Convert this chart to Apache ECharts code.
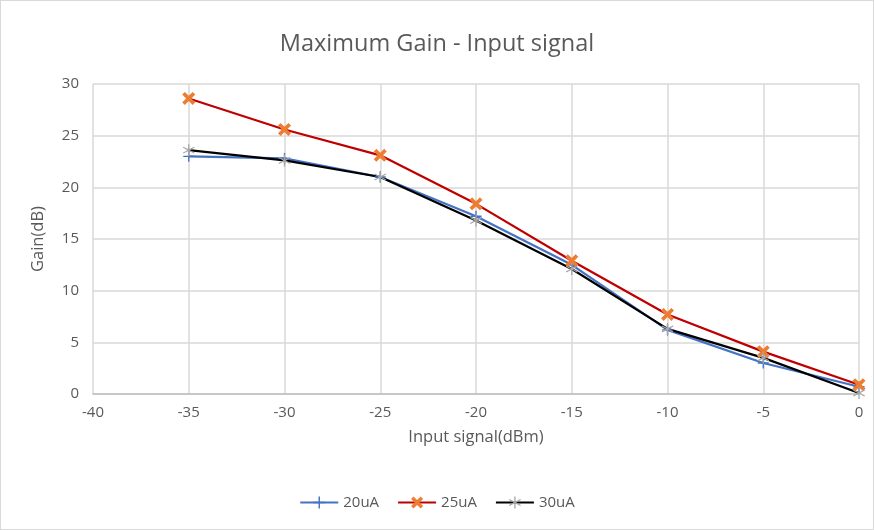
<!DOCTYPE html>
<html>
<head>
<meta charset="utf-8">
<script src="https://cdn.jsdelivr.net/npm/echarts@6/dist/echarts.min.js"></script>
<style>
  html, body { margin: 0; padding: 0; background: #fff; }
  #main { width: 872px; height: 528px; border: 1px solid #d9d9d9; }
</style>
</head>
<body>
<div id="main"></div>
<script>
var inputSignal = [-35, -30, -25, -20, -15, -10, -5, 0];
var gain20uA = [23.0, 22.8, 21.0, 17.2, 12.5, 6.2, 3.0, 0.7];
var gain25uA = [28.6, 25.6, 23.1, 18.4, 12.9, 7.7, 4.1, 0.9];
var gain30uA = [23.6, 22.6, 21.0, 16.8, 12.1, 6.3, 3.5, 0.1];

var seriesNames = ['20uA', '25uA', '30uA'];

// marker shapes, close to the Excel ones
var plusSymbol = 'path://M4.4,0 L5.6,0 L5.6,4.4 L10,4.4 L10,5.6 L5.6,5.6 L5.6,10 L4.4,10 L4.4,5.6 L0,5.6 L0,4.4 L4.4,4.4 Z';
var crossSymbol = 'path://M2,0 L5,3 L8,0 L10,2 L7,5 L10,8 L8,10 L5,7 L2,10 L0,8 L3,5 L0,2 Z';
var starSymbol = 'path://M4.5,0 L5.5,0 L5.5,4.1 L9.1,2.1 L9.6,2.9 L6,5 L9.6,7.1 L9.1,7.9 L5.5,5.9 L5.5,10 L4.5,10 L4.5,5.9 L0.9,7.9 L0.4,7.1 L4,5 L0.4,2.9 L0.9,2.1 L4.5,4.1 Z';

function pairs(ys) {
  return inputSignal.map(function (x, i) { return [x, ys[i]]; });
}

var chart = echarts.init(document.getElementById('main'));
var textColor = '#595959';
var font = '"Open Sans", "Noto Sans", sans-serif';

var options = {
  animation: false,
  textStyle: { fontFamily: font },
  title: {
    text: 'Maximum Gain - Input signal',
    left: 'center',
    top: 26,
    textStyle: { color: textColor, fontSize: 23.5, fontWeight: 'normal', fontFamily: font }
  },
  legend: {
    bottom: 14,
    left: 'center',
    itemWidth: 38,
    itemHeight: 15,
    itemGap: 18,
    textStyle: { color: textColor, fontSize: 15, fontFamily: font },
    data: seriesNames
  },
  grid: { left: 92, right: 14, top: 83, bottom: 135, containLabel: false },
  xAxis: {
    type: 'value',
    min: -40,
    max: 0,
    interval: 5,
    name: 'Input signal(dBm)',
    nameLocation: 'middle',
    nameGap: 35,
    nameTextStyle: { color: textColor, fontSize: 16.5, fontFamily: font },
    axisLine: { lineStyle: { color: '#bfbfbf', width: 1.5 } },
    axisTick: { show: false },
    axisLabel: { color: textColor, fontSize: 15, margin: 11, fontFamily: font },
    splitLine: { show: true, lineStyle: { color: '#d9d9d9', width: 1.5 } }
  },
  yAxis: {
    type: 'value',
    min: 0,
    max: 30,
    interval: 5,
    name: 'Gain(dB)',
    nameLocation: 'middle',
    nameGap: 46,
    nameTextStyle: { color: textColor, fontSize: 16.5, fontFamily: font },
    axisLine: { show: false },
    axisTick: { show: false },
    axisLabel: { color: textColor, fontSize: 15, margin: 14, fontFamily: font },
    splitLine: { show: true, lineStyle: { color: '#d9d9d9', width: 1.5 } }
  },
  series: [
    {
      name: seriesNames[0],
      type: 'line',
      data: pairs(gain20uA),
      symbol: plusSymbol,
      symbolSize: 11,
      lineStyle: { color: '#4472c4', width: 2.25 },
      itemStyle: { color: '#4472c4' }
    },
    {
      name: seriesNames[1],
      type: 'line',
      data: pairs(gain25uA),
      symbol: crossSymbol,
      symbolSize: 13,
      lineStyle: { color: '#c00000', width: 2.25 },
      itemStyle: { color: '#ed7d31' }
    },
    {
      name: seriesNames[2],
      type: 'line',
      data: pairs(gain30uA),
      symbol: starSymbol,
      symbolSize: 12,
      lineStyle: { color: '#000000', width: 2.25 },
      itemStyle: { color: '#a5a5a5' }
    }
  ]
};

chart.setOption(options);
</script>
</body>
</html>
